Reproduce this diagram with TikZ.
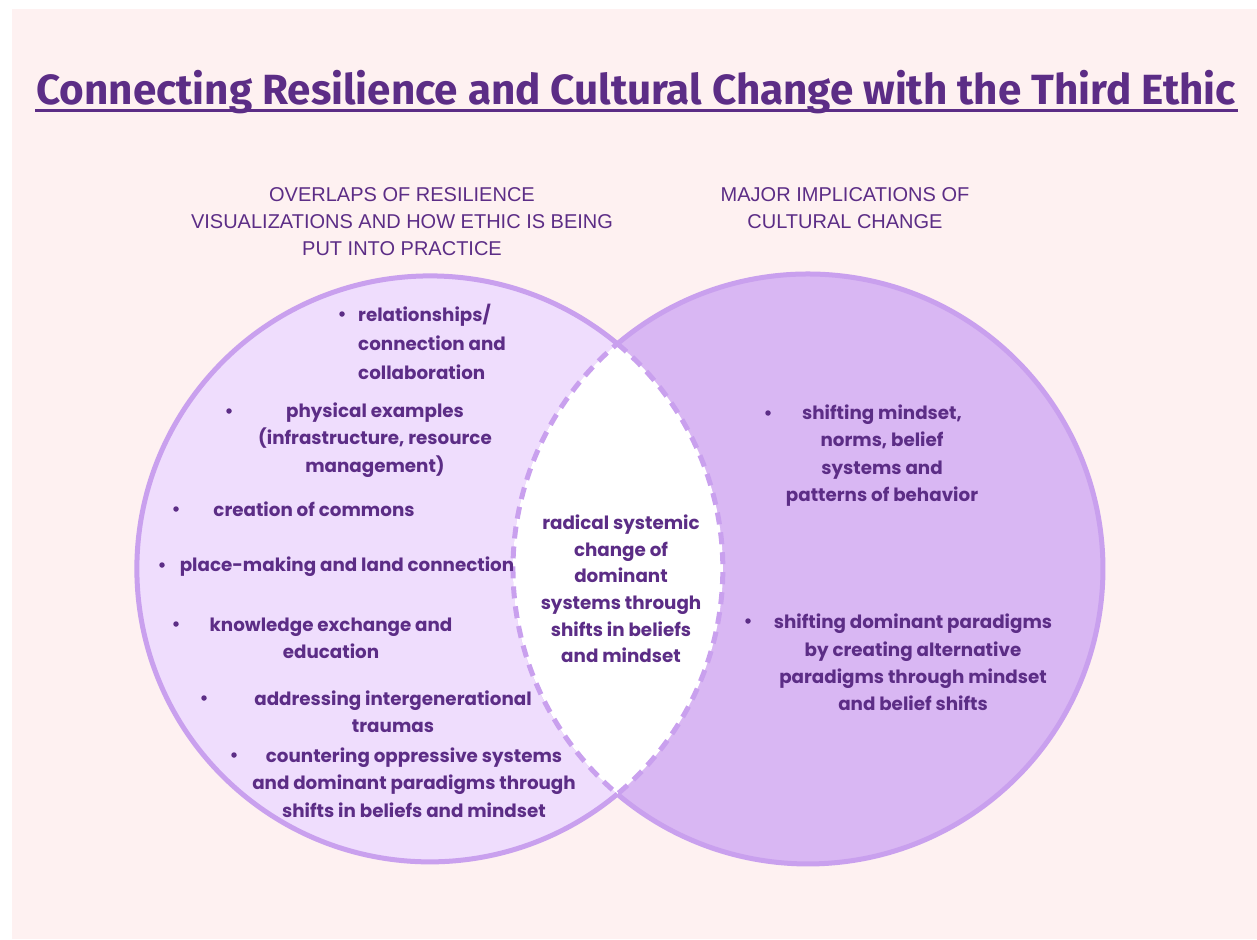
\documentclass[tikz,border=0pt]{standalone}
\usepackage{fontspec}
\setmainfont{Liberation Sans}
\newfontfamily\bodyfont{Poppins}
\newfontfamily\titlefont{Fira Sans}
\definecolor{ink}{HTML}{5C2D86}
\definecolor{paper}{HTML}{FEF1F1}
\definecolor{ringline}{HTML}{C9A0EE}
\definecolor{leftfill}{HTML}{EFDDFD}
\definecolor{rightfill}{HTML}{D9B7F3}
\tikzset{
  body/.style={font=\bodyfont\bfseries\fontsize{18.3}{27.3}\selectfont, text=ink, align=center, inner sep=0pt},
  head/.style={font=\fontsize{20}{27}\selectfont, text=ink, align=center, inner sep=0pt},
  dot/.style={circle, fill=ink, minimum size=5.5pt, inner sep=0pt},
}
\begin{document}
\begin{tikzpicture}[x=1pt,y=1pt]
% page and pink panel
\useasboundingbox (0,0) rectangle (1257,-939);
\fill[white] (0,0) rectangle (1257,-939);
\fill[paper] (12,-9) rectangle (1257,-939);

% title with underline
\node[font=\titlefont\bfseries\fontsize{42.2}{46}\selectfont, text=ink, inner sep=0pt] (title) at (636,-92)
  {Connecting Resilience and Cultural Change with the Third Ethic};
\coordinate (ulA) at (35,-111);
\coordinate (ulB) at (1238,-111);
\draw[ink, line width=3pt] (ulA) -- (ulB);

% column headings
\node[head] (lhead) at (402,-222) {OVERLAPS OF RESILIENCE\\VISUALIZATIONS AND HOW ETHIC IS BEING\\PUT INTO PRACTICE};
\node[head] (rhead) at (845,-208.5) {MAJOR IMPLICATIONS OF\\CULTURAL CHANGE};

% the two circles
\coordinate (L) at (430,-569);
\coordinate (R) at (808,-569);
\fill[leftfill] (L) circle (293);
\fill[rightfill] (R) circle (295);
% shared lens
\coordinate (top) at (617.4,-343.8);
\fill[white] (top) arc[start angle=50.2, end angle=-50.2, radius=293]
  arc[start angle=229.76, end angle=130.24, radius=295] -- cycle;
% outer arcs
\draw[ringline, line width=5pt] (top) arc[start angle=50.2, end angle=309.8, radius=293];
\draw[ringline, line width=5pt] (top) arc[start angle=130.24, end angle=-130.24, radius=295];
% dashed lens border
\draw[ringline, line width=5pt, dash pattern=on 12pt off 8pt] (top)
  arc[start angle=50.2, end angle=-50.2, radius=293]
  arc[start angle=229.76, end angle=130.24, radius=295];

% left circle items
\node[dot] (b1) at (342,-314) {};
\node[body, align=left, anchor=west, font=\bodyfont\bfseries\fontsize{18.3}{29}\selectfont] (t1) at (358,-342) {relationships/\\connection and\\collaboration};
\node[dot] (b2) at (229,-411) {};
\node[body] (t2) at (375,-440) {physical examples\\(infrastructure, resource\\management)};
\node[dot] (b3) at (176,-509) {};
\node[body] (t3) at (314,-509) {creation of commons};
\node[dot] (b4) at (162,-565) {};
\node[body] (t4) at (347,-566.5) {place-making and land connection};
\node[dot] (b5) at (176,-624) {};
\node[body] (t5) at (331,-638.5) {knowledge exchange and\\education};
\node[dot] (b6) at (204,-698) {};
\node[body] (t6) at (393,-712) {addressing intergenerational\\traumas};
\node[dot] (b7) at (234,-755) {};
\node[body] (t7) at (414,-782.5) {countering oppressive systems\\and dominant paradigms through\\shifts in beliefs and mindset};

% lens text
\node[body, font=\bodyfont\bfseries\fontsize{18.3}{26.6}\selectfont] (mid) at (621,-589)
  {radical systemic\\change of\\dominant\\systems through\\shifts in beliefs\\and mindset};

% right circle items
\node[dot] (b8) at (768,-413) {};
\node[body] (t8) at (882,-455.5) {shifting mindset,\\norms, belief\\systems and\\patterns of behavior};
\node[dot] (b9) at (748,-621) {};
\node[body] (t9) at (913,-662.5) {shifting dominant paradigms\\by creating alternative\\paradigms through mindset\\and belief shifts};
\end{tikzpicture}
\end{document}
